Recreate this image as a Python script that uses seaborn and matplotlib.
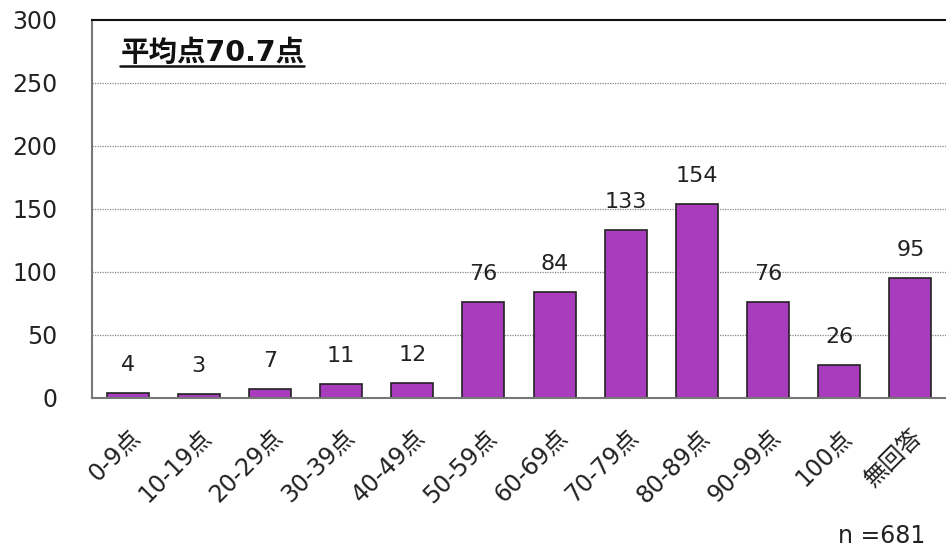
import matplotlib
matplotlib.use("Agg")
import matplotlib.pyplot as plt
import seaborn as sns
import pandas as pd

categories = ["0-9点", "10-19点", "20-29点", "30-39点", "40-49点", "50-59点",
              "60-69点", "70-79点", "80-89点", "90-99点", "100点", "無回答"]
counts = [4, 3, 7, 11, 12, 76, 84, 133, 154, 76, 26, 95]
y_ticks = [0, 50, 100, 150, 200, 250, 300]
title_text = "平均点70.7点"
n_text = "n =681"

sns.set_theme(style="white")
plt.rcParams['font.family'] = ['DejaVu Sans', 'Noto Sans CJK JP']

df = pd.DataFrame({"cat": categories, "count": counts})

fig = plt.figure(figsize=(9.46, 5.52), dpi=100)
ax = fig.add_axes([0.0973, 0.279, 0.9027, 0.685])

sns.barplot(data=df, x="cat", y="count", color="#A83CBC", saturation=1,
            edgecolor="#222222", linewidth=1.2, width=0.59, ax=ax)

ax.set_ylim(0, 300)
ax.set_yticks(y_ticks)
ax.set_xlim(-0.5, len(categories) - 0.5)
ax.set_xlabel("")
ax.set_ylabel("")
ax.tick_params(axis="y", labelsize=17, length=0, pad=25, colors="#222222")
ax.tick_params(axis="x", labelsize=17, length=0, pad=19, colors="#222222")
for lbl in ax.get_xticklabels():
    lbl.set_rotation(45)
    lbl.set_ha("right")
    lbl.set_va("top")
    lbl.set_rotation_mode("anchor")

for y in y_ticks[1:-1]:
    ax.axhline(y, color="#888888", linestyle=(0, (1, 1)), linewidth=0.9, zorder=0)

ax.spines["right"].set_visible(False)
ax.spines["top"].set_color("#111111")
ax.spines["top"].set_linewidth(1.5)
ax.spines["left"].set_color("#777777")
ax.spines["left"].set_linewidth(1.5)
ax.spines["bottom"].set_color("#777777")
ax.spines["bottom"].set_linewidth(1.5)

ax.bar_label(ax.containers[0], labels=[str(v) for v in counts], padding=13,
             fontsize=16, color="#222222")

t = ax.text(0.033, 0.913, title_text, transform=ax.transAxes, fontsize=20.5,
            fontweight="bold", ha="left", va="center", color="#111111")
fig.canvas.draw()
bb = t.get_window_extent(renderer=fig.canvas.get_renderer())
inv = fig.transFigure.inverted()
(x0, y0), (x1, y1) = inv.transform([(bb.x0, bb.y0 + 1), (bb.x1, bb.y0 + 1)])
fig.add_artist(plt.Line2D([x0, x1], [y0, y1], color="#111111", linewidth=1.8))

fig.text(0.978, 0.017, n_text, ha="right", va="baseline", fontsize=17, color="#222222")

fig.savefig("out.png", dpi=100)
